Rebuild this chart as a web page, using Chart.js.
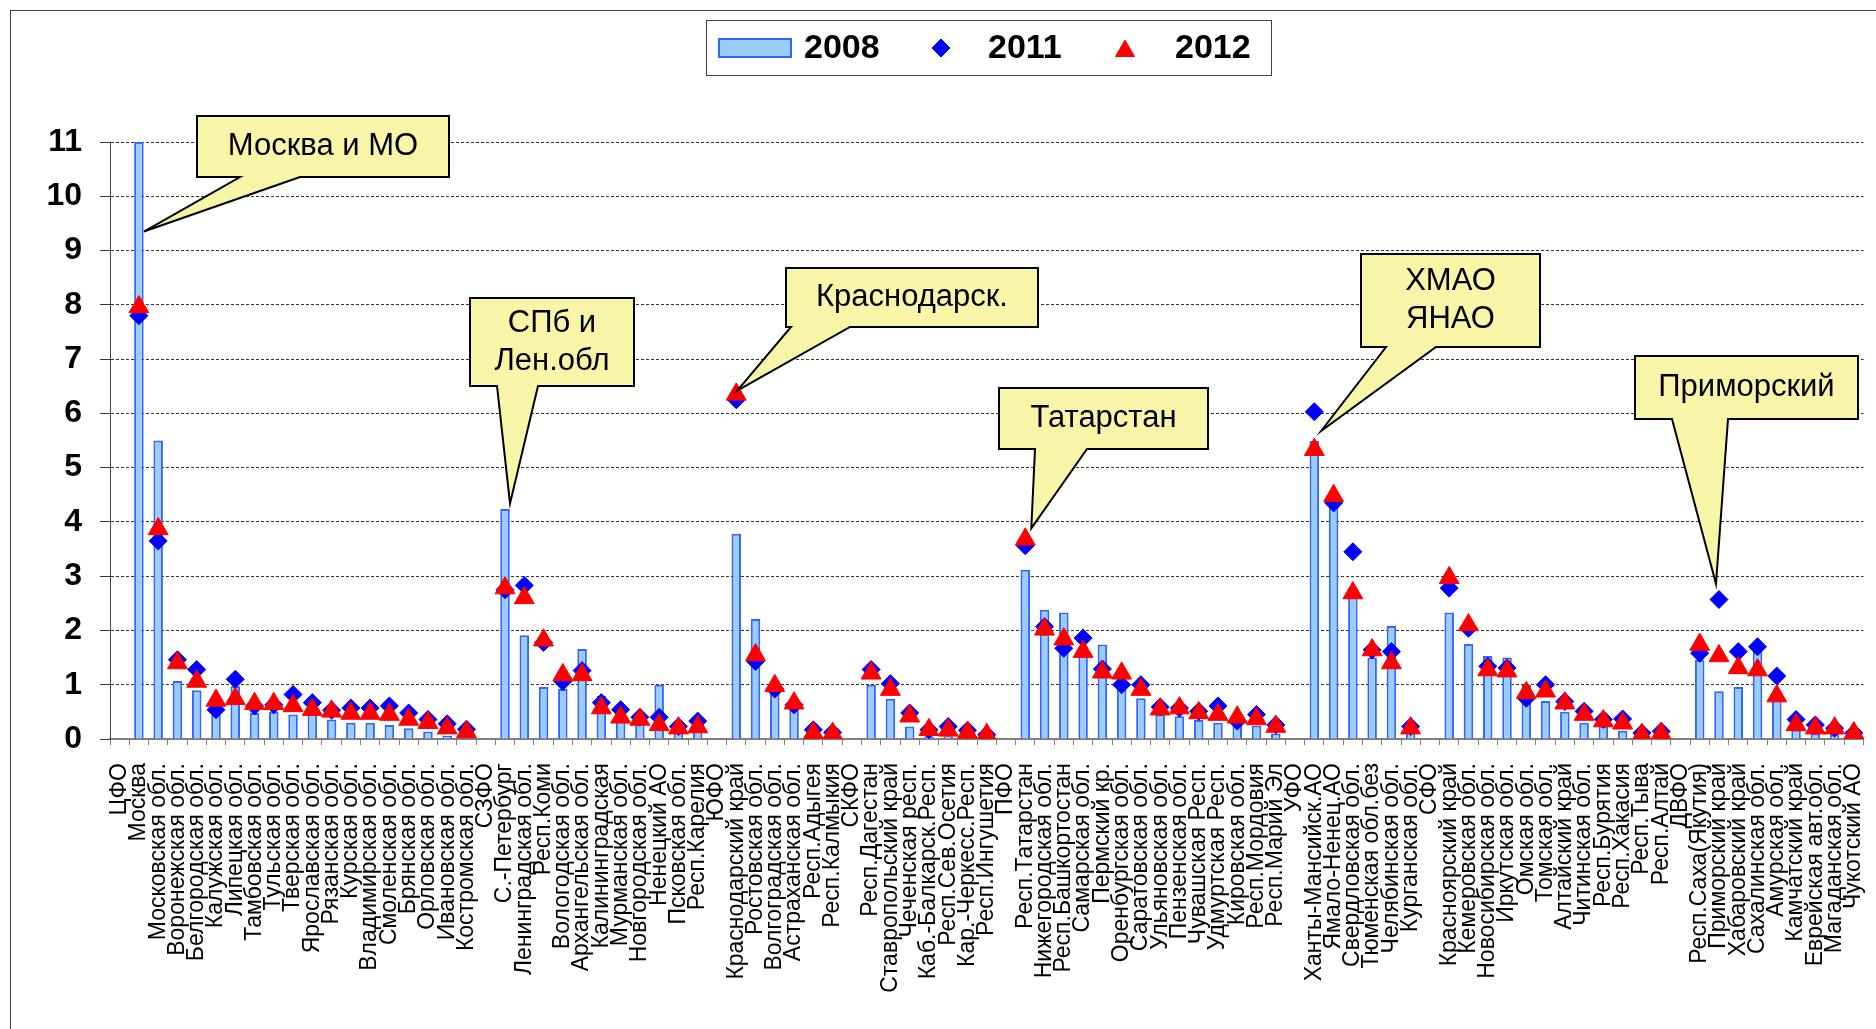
<!DOCTYPE html>
<html>
<head>
<meta charset="utf-8">
<script src="https://cdn.jsdelivr.net/npm/chart.js@4.4.1/dist/chart.umd.min.js"></script>
<style>
  html, body { margin: 0; padding: 0; background: #fff; }
  #wrap { width: 1876px; height: 1029px; }
</style>
</head>
<body>
<div id="wrap"><canvas id="chart" width="1876" height="1029"></canvas></div>
<script>
// регионы (заголовки округов без значений)
const categories = [
  'ЦФО', 'Москва', 'Московская обл.', 'Воронежская обл.', 'Белгородская обл.', 'Калужская обл.',
  'Липецкая обл.', 'Тамбовская обл.', 'Тульская обл.', 'Тверская обл.', 'Ярославская обл.',
  'Рязанская обл.', 'Курская обл.', 'Владимирская обл.', 'Смоленская обл.', 'Брянская обл.',
  'Орловская обл.', 'Ивановская обл.', 'Костромская обл.',
  'СЗФО', 'С.-Петербург', 'Ленинградская обл.', 'Респ.Коми', 'Вологодская обл.', 'Архангельская обл.',
  'Калининградская', 'Мурманская обл.', 'Новгородская обл.', 'Ненецкий АО', 'Псковская обл.', 'Респ.Карелия',
  'ЮФО', 'Краснодарский край', 'Ростовская обл.', 'Волгоградская обл.', 'Астраханская обл.',
  'Респ.Адыгея', 'Респ.Калмыкия',
  'СКФО', 'Респ.Дагестан', 'Ставропольский край', 'Чеченская респ.', 'Каб.-Балкарск.Респ.',
  'Респ.Сев.Осетия', 'Кар.-Черкесс.Респ.', 'Респ.Ингушетия',
  'ПФО', 'Респ.Татарстан', 'Нижегородская обл.', 'Респ.Башкортостан', 'Самарская обл.', 'Пермский кр.',
  'Оренбургская обл.', 'Саратовская обл.', 'Ульяновская обл.', 'Пензенская обл.', 'Чувашская Респ.',
  'Удмуртская Респ.', 'Кировская обл.', 'Респ.Мордовия', 'Респ.Марий Эл',
  'УФО', 'Ханты-Мансийск.АО', 'Ямало-Ненец.АО', 'Свердловская обл.', 'Тюменская обл.без',
  'Челябинская обл.', 'Курганская обл.',
  'СФО', 'Красноярский край', 'Кемеровская обл.', 'Новосибирская обл.', 'Иркутская обл.', 'Омская обл.',
  'Томская обл.', 'Алтайский край', 'Читинская обл.', 'Респ.Бурятия', 'Респ.Хакасия', 'Респ.Тыва', 'Респ.Алтай',
  'ДВФО', 'Респ.Саха(Якутия)', 'Приморский край', 'Хабаровский край', 'Сахалинская обл.', 'Амурская обл.',
  'Камчатский край', 'Еврейская авт.обл.', 'Магаданская обл.', 'Чукотский АО'
];

const s2008 = [
  null, 11, 5.5, 1.07, 0.9, 0.6, 0.97, 0.48, 0.5, 0.45, 0.54, 0.36, 0.3, 0.3, 0.26, 0.2, 0.14, 0.06, 0.04,
  null, 4.24, 1.91, 0.96, 0.92, 1.66, 0.79, 0.54, 0.39, 1.0, 0.14, 0.2,
  null, 3.78, 2.21, 0.85, 0.75, 0.05, 0.03,
  null, 1.0, 0.74, 0.23, 0.05, 0.05, 0.03, 0.02,
  null, 3.12, 2.38, 2.33, 1.6, 1.74, 1.1, 0.75, 0.45, 0.42, 0.35, 0.3, 0.45, 0.25, 0.1,
  null, 5.49, 4.3, 2.78, 1.5, 2.08, 0.25,
  null, 2.33, 1.75, 1.53, 1.5, 1.0, 0.7, 0.5, 0.3, 0.25, 0.15, 0.02, 0.02,
  null, 1.46, 0.88, 0.96, 1.61, 0.75, 0.17, 0.1, 0.1, 0.05
];

const s2011 = [
  null, 7.8, 3.65, 1.46, 1.28, 0.54, 1.1, 0.61, 0.63, 0.82, 0.67, 0.53, 0.57, 0.57, 0.61, 0.48, 0.36, 0.28, 0.18,
  null, 2.75, 2.83, 1.78, 1.06, 1.26, 0.67, 0.54, 0.4, 0.4, 0.23, 0.33,
  null, 6.25, 1.43, 0.92, 0.63, 0.17, 0.12,
  null, 1.28, 1.02, 0.48, 0.17, 0.23, 0.16, 0.08,
  null, 3.56, 2.07, 1.67, 1.86, 1.29, 1.0, 1.0, 0.59, 0.57, 0.51, 0.61, 0.33, 0.45, 0.26,
  null, 6.03, 4.35, 3.45, 1.64, 1.61, 0.23,
  null, 2.78, 2.04, 1.34, 1.31, 0.75, 1.0, 0.69, 0.51, 0.36, 0.37, 0.11, 0.14,
  null, 1.58, 2.57, 1.61, 1.7, 1.16, 0.36, 0.26, 0.2, 0.11
];

const s2012 = [
  null, 7.96, 3.87, 1.4, 1.06, 0.71, 0.74, 0.65, 0.65, 0.61, 0.54, 0.51, 0.47, 0.47, 0.45, 0.36, 0.3, 0.2, 0.13,
  null, 2.78, 2.6, 1.82, 1.18, 1.18, 0.57, 0.4, 0.36, 0.26, 0.2, 0.22,
  null, 6.35, 1.55, 0.98, 0.66, 0.11, 0.1,
  null, 1.21, 0.91, 0.42, 0.17, 0.16, 0.12, 0.08,
  null, 3.68, 2.02, 1.84, 1.61, 1.23, 1.21, 0.91, 0.55, 0.57, 0.48, 0.45, 0.4, 0.37, 0.23,
  null, 5.33, 4.48, 2.69, 1.64, 1.4, 0.2,
  null, 2.97, 2.1, 1.27, 1.25, 0.85, 0.88, 0.66, 0.45, 0.33, 0.29, 0.08, 0.1,
  null, 1.74, 1.53, 1.31, 1.27, 0.79, 0.26, 0.2, 0.2, 0.11
];

const seriesNames = ['2008', '2011', '2012'];

// выноски: текст, регион и уровень, куда указывает хвост
const calloutText = [['Москва и МО'], ['СПб и', 'Лен.обл'], ['Краснодарск.'], ['Татарстан'], ['ХМАО', 'ЯНАО'], ['Приморский']];
const calloutCategory = ['Москва', 'С.-Петербург', 'Краснодарский край', 'Респ.Татарстан', 'Ханты-Мансийск.АО', 'Приморский край'];
const calloutValue = [9.35, 4.34, 6.42, 3.88, 5.68, 2.86];

// положение прямоугольников выносок на холсте
const calloutBoxes = [
  { x: 197, y: 116, w: 252, h: 61, b1: 240, b2: 300, dx: 5 },
  { x: 470, y: 298, w: 164, h: 88, b1: 497, b2: 538, dx: 5 },
  { x: 786, y: 268, w: 252, h: 59, b1: 791, b2: 850, dx: 1 },
  { x: 999, y: 388, w: 209, h: 61, b1: 1035, b2: 1087, dx: 6 },
  { x: 1361, y: 254, w: 179, h: 93, b1: 1386, b2: 1436, dx: 7 },
  { x: 1635, y: 356, w: 223, h: 63, b1: 1672, b2: 1728, dx: -3 }
];

const FONT = '"Liberation Sans", Arial, sans-serif';
const BAR_FILL = '#99CCFF', BAR_LINE = '#3366FF';

const overlay = {
  id: 'overlay',
  afterDraw(chart) {
    const c = chart.ctx;
    const xs = chart.scales.x, ys = chart.scales.y;
    c.save();

    // рамка области диаграммы
    c.strokeStyle = '#404040';
    c.lineWidth = 1;
    c.strokeRect(10.5, 10.5, 2000, 2000);

    // выноски
    calloutText.forEach((lines, i) => {
      const b = calloutBoxes[i];
      const tx = xs.getPixelForValue(categories.indexOf(calloutCategory[i])) + b.dx;
      const ty = ys.getPixelForValue(calloutValue[i]);
      const bottom = b.y + b.h;
      c.beginPath();
      c.moveTo(b.x, b.y);
      c.lineTo(b.x + b.w, b.y);
      c.lineTo(b.x + b.w, bottom);
      c.lineTo(b.b2, bottom);
      c.lineTo(tx, ty);
      c.lineTo(b.b1, bottom);
      c.lineTo(b.x, bottom);
      c.closePath();
      c.fillStyle = '#F8F5A8';
      c.fill();
      c.lineWidth = 2;
      c.lineJoin = 'miter';
      c.strokeStyle = '#000';
      c.stroke();

      c.fillStyle = '#000';
      c.font = '31px ' + FONT;
      c.textAlign = 'center';
      c.textBaseline = 'middle';
      const lh = 38;
      const cy = b.y + b.h / 2 - (lines.length - 1) * lh / 2;
      lines.forEach((t, k) => c.fillText(t, b.x + b.w / 2, cy + k * lh));
    });

    // легенда
    c.fillStyle = '#fff';
    c.fillRect(706, 20, 565, 55);
    c.strokeStyle = '#404040';
    c.lineWidth = 1;
    c.strokeRect(706.5, 20.5, 565, 55);

    const ly = 48;
    c.fillStyle = BAR_FILL;
    c.fillRect(719, 39, 72, 18);
    c.strokeStyle = BAR_LINE;
    c.lineWidth = 2;
    c.strokeRect(719, 39, 72, 18);

    const ds = chart.data.datasets;
    const d2011 = ds.find(d => d.label === '2011');
    const d2012 = ds.find(d => d.label === '2012');
    c.fillStyle = d2011.pointBackgroundColor;
    c.strokeStyle = d2011.pointBorderColor;
    c.lineWidth = 1;
    Chart.helpers.drawPoint(c, { pointStyle: 'rectRot', radius: 9, borderWidth: 1, rotation: 0 }, 941, ly);
    c.fillStyle = d2012.pointBackgroundColor;
    c.strokeStyle = d2012.pointBorderColor;
    Chart.helpers.drawPoint(c, { pointStyle: 'triangle', radius: 11, borderWidth: 1, rotation: 0 }, 1125, ly + 3);

    c.fillStyle = '#000';
    c.font = 'bold 34px ' + FONT;
    c.textAlign = 'left';
    c.textBaseline = 'middle';
    c.fillText(seriesNames[0], 804, ly + 1);
    c.fillText(seriesNames[1], 988, ly + 1);
    c.fillText(seriesNames[2], 1175, ly + 1);

    c.restore();
  }
};

new Chart(document.getElementById('chart').getContext('2d'), {
  data: {
    labels: categories,
    datasets: [
      {
        type: 'line', label: seriesNames[2], data: s2012, showLine: false,
        pointStyle: 'triangle', pointRadius: 11.5, pointBorderWidth: 1,
        pointBackgroundColor: '#FF0000', pointBorderColor: '#FF0000', order: 0
      },
      {
        type: 'line', label: seriesNames[1], data: s2011, showLine: false,
        pointStyle: 'rectRot', pointRadius: 9, pointBorderWidth: 1,
        pointBackgroundColor: '#0000FF', pointBorderColor: '#0000FF', order: 1
      },
      {
        type: 'bar', label: seriesNames[0], data: s2008,
        backgroundColor: BAR_FILL, borderColor: BAR_LINE, borderWidth: 2,
        barPercentage: 0.95, categoryPercentage: 0.52, order: 2
      }
    ]
  },
  options: {
    responsive: false,
    animation: false,
    devicePixelRatio: 1,
    layout: { padding: { top: 142, right: 3, left: 0, bottom: 0 } },
    plugins: { legend: { display: false }, tooltip: { enabled: false } },
    scales: {
      x: {
        afterFit: s => { s.height = 290; s.paddingLeft = 0; s.paddingRight = 0; },
        grid: { drawOnChartArea: false, offset: true, tickLength: 6, color: '#808080', tickColor: '#808080' },
        border: { color: '#808080', width: 2 },
        ticks: {
          autoSkip: false, maxRotation: 90, minRotation: 90, padding: 18,
          color: '#000', font: { family: FONT, size: 23 }
        }
      },
      y: {
        min: 0, max: 11,
        afterFit: s => { s.width = 110; },
        grid: {
          color: c => c.tick.value === 0 ? 'rgba(0,0,0,0)' : '#333',
          tickColor: '#333', tickLength: 10, lineWidth: 1
        },
        border: { color: '#404040', width: 1, dash: [3, 2] },
        ticks: {
          stepSize: 1, padding: 18, color: '#000',
          font: { family: FONT, size: 32, weight: 'bold' }
        }
      }
    }
  },
  plugins: [overlay]
});
</script>
</body>
</html>
